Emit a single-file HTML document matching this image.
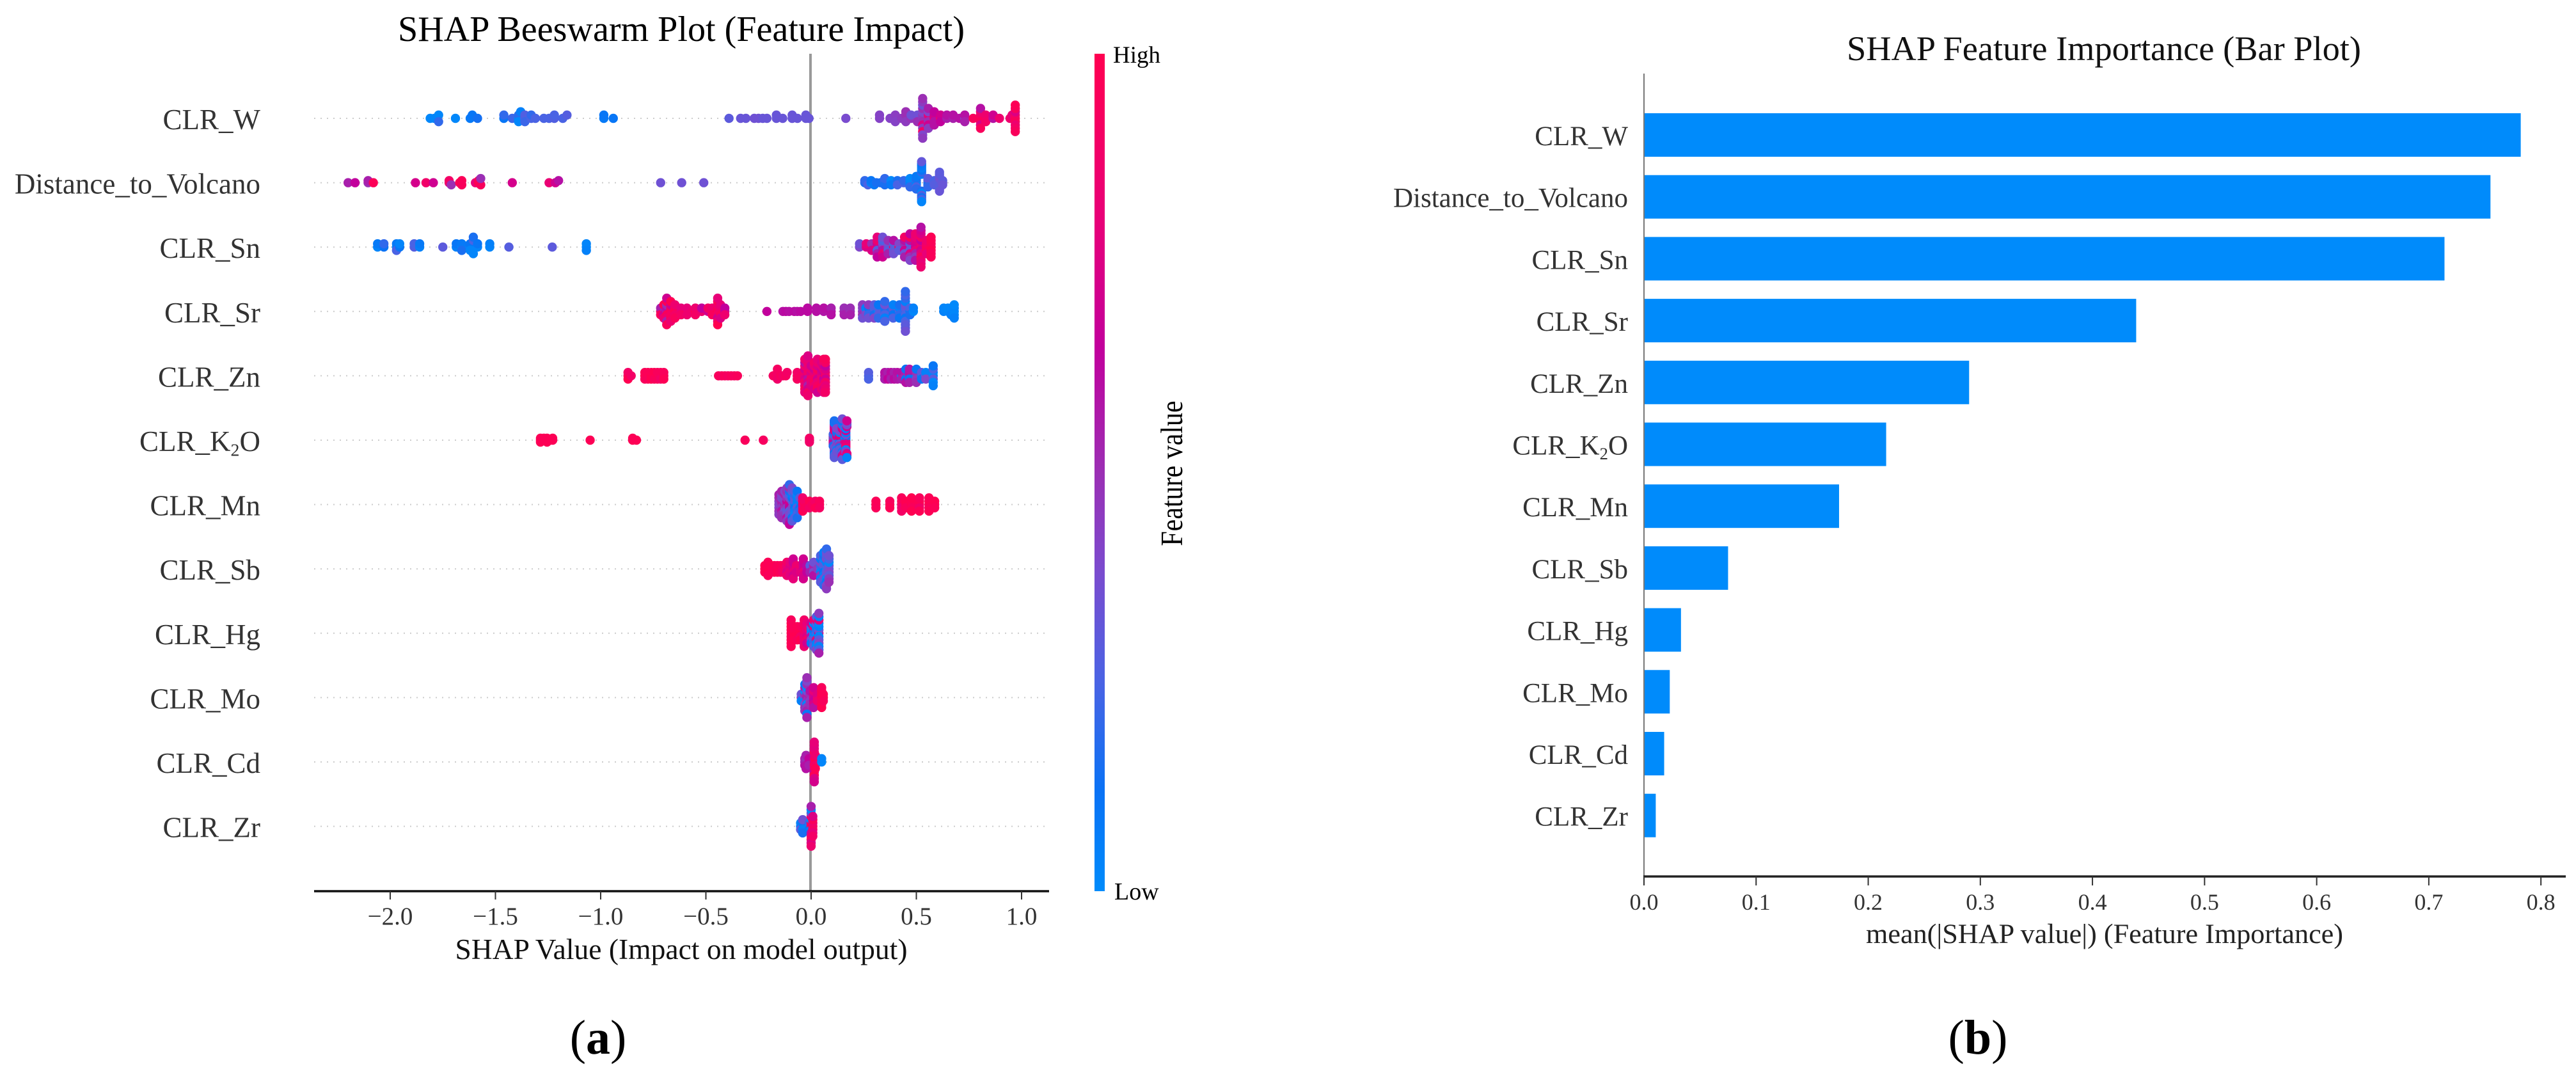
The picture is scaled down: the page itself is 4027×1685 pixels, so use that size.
<!DOCTYPE html>
<html lang="en">
<head>
<meta charset="utf-8">
<title>SHAP Beeswarm and Feature Importance</title>
<style>
html,body{margin:0;padding:0;background:#fff}
svg{display:block;font-family:"Liberation Serif","Noto Serif CJK SC",serif}
</style>
</head>
<body>
<svg id="figure" xmlns="http://www.w3.org/2000/svg" width="4027" height="1685" viewBox="0 0 4027 1685">
  <defs>
    <linearGradient id="shapGradient" x1="0" y1="1" x2="0" y2="0">
      <stop offset="0" stop-color="#008bfb"/>
      <stop offset="0.12" stop-color="#0a72f5"/>
      <stop offset="0.25" stop-color="#4a63e4"/>
      <stop offset="0.38" stop-color="#7a4ccf"/>
      <stop offset="0.5" stop-color="#9b2fb4"/>
      <stop offset="0.65" stop-color="#c2009c"/>
      <stop offset="0.8" stop-color="#e80078"/>
      <stop offset="1" stop-color="#ff0051"/>
    </linearGradient>
  </defs>
  <rect x="0" y="0" width="4027" height="1685" fill="#fff"/>

  <g id="beeswarm">
    <text x="1065" y="64" font-size="56" text-anchor="middle" textLength="886" lengthAdjust="spacingAndGlyphs" fill="#000">SHAP Beeswarm Plot (Feature Impact)</text>
    <g id="beeGrid"></g>
    <line x1="1267" y1="84" x2="1267" y2="1393" stroke="#999" stroke-width="4"/>
    <g id="beeDots"></g>
    <g id="beeLabels"></g>
    <line x1="491" y1="1393" x2="1640" y2="1393" stroke="#111" stroke-width="3.5"/>
    <g id="beeTicks"></g>
    <text x="1065" y="1499" font-size="45" text-anchor="middle" textLength="707" lengthAdjust="spacingAndGlyphs" fill="#111">SHAP Value (Impact on model output)</text>
    <rect x="1711" y="84" width="16" height="1309" fill="url(#shapGradient)"/>
    <text x="1740" y="98" font-size="37" fill="#000">High</text>
    <text x="1742" y="1406" font-size="38" fill="#000">Low</text>
    <text transform="translate(1848,740) rotate(-90) scale(1,1.15)" font-size="42" text-anchor="middle" fill="#000">Feature value</text>
    <text x="935" y="1647" font-size="76" text-anchor="middle" fill="#000">(<tspan font-weight="bold">a</tspan>)</text>
  </g>

  <g id="barplot">
    <text x="3289" y="94" font-size="54" text-anchor="middle" textLength="804" lengthAdjust="spacingAndGlyphs" fill="#111">SHAP Feature Importance (Bar Plot)</text>
    <g id="barRects"></g>
    <line x1="2570" y1="115" x2="2570" y2="1370" stroke="#777" stroke-width="2"/>
    <g id="barLabels"></g>
    <line x1="2569" y1="1370" x2="4011" y2="1370" stroke="#222" stroke-width="3.5"/>
    <g id="barTicks"></g>
    <text x="3290" y="1474" font-size="43" text-anchor="middle" textLength="746" lengthAdjust="spacingAndGlyphs" fill="#222">mean(|SHAP value|) (Feature Importance)</text>
    <text x="3092" y="1647" font-size="76" text-anchor="middle" fill="#000">(<tspan font-weight="bold">b</tspan>)</text>
  </g>
</svg>

<script>
const featureLabels = ['CLR_W','Distance_to_Volcano','CLR_Sn','CLR_Sr','CLR_Zn','CLR_K2O','CLR_Mn','CLR_Sb','CLR_Hg','CLR_Mo','CLR_Cd','CLR_Zr'];
const barValues = [0.782,0.755,0.714,0.439,0.29,0.216,0.174,0.075,0.033,0.023,0.018,0.0105];
const beeTickValues = [-2,-1.5,-1,-0.5,0,0.5,1];
const beeTickLabels = ['\u22122.0','\u22121.5','\u22121.0','\u22120.5','0.0','0.5','1.0'];
const barTickValues = [0,0.1,0.2,0.3,0.4,0.5,0.6,0.7,0.8];
const barTickLabels = ['0.0','0.1','0.2','0.3','0.4','0.5','0.6','0.7','0.8'];

const shapW = [-1.81,-1.79,-1.77,-1.77,-1.69,-1.62,-1.61,-1.585,
-1.46,-1.46,-1.42,-1.39,-1.39,-1.39,-1.38,-1.36,-1.36,-1.36,-1.33,-1.33,-1.31,-1.27,-1.245,-1.22,-1.22,-1.18,-1.16,
-.985,-.985,-.94,
-.39,-.335,-.31,-.27,-.25,-.23,-.21,-.165,-.165,-.135,-.09,-.09,-.065,-.025,-.025,-.01,.165,
.325,.325,.375,.40,.40,.43,.45,.45,.45,.475,.475,
.505,.505,.505,
.53,.53,.53,.53,.53,.53,.53,.53,.53,.53,.53,.53,.53,
.557,.557,.557,.557,.557,.557,.557,
.585,.585,.585,.585,.585,
.615,.615,.615,
.645,.645,.675,.675,.705,.73,.73,.73,.77,
.805,.805,.805,.805,.805,.805,.805,.83,.83,.83,
.865,.865,.895,.945,.955,
.97,.97,.97,.97,.97,.97,.97,.97,.97];
const featW = [.02,.03,.02,.2,.02,.08,.1,.14,
.1,.2,.22,.02,.18,.02,.05,.25,.27,.22,.25,.2,.25,.25,.25,.27,.25,.25,.28,
.08,.1,.1,
.3,.33,.33,.35,.35,.33,.33,.33,.33,.33,.33,.33,.33,.33,.33,.33,.38,
.42,.42,.42,.44,.42,.45,.5,.45,.5,.48,.35,
.4,.35,.5,
.45,.45,.5,.4,.75,.5,.45,.35,.9,.45,.4,.5,.45,
.5,.8,.5,.4,.7,.55,.45,
.85,.7,.6,.65,.6,
.9,.7,.65,
.55,.6,.55,.6,.6,.45,.6,.55,.95,
.98,.9,.95,.85,.75,.6,.95,.95,.85,.9,
.6,.7,.85,.85,.8,
.98,.9,.95,.75,.85,.95,.9,.98,.95];

const shapDistance = [-2.20,-2.167,-2.105,-2.105,-2.08,-1.88,-1.83,-1.795,-1.72,-1.72,-1.71,-1.67,-1.66,-1.66,-1.595,-1.58,-1.58,-1.57,-1.57,-1.42,-1.245,-1.215,-1.20,-.715,-.615,-.51,
.255,.255,.27,.285,.285,.30,.31,.33,.35,.35,.35,.38,.38,.38,.41,.41,.41,.44,.44,.47,.47,.47,.47,.47,
.50,.50,.50,.50,.50,.50,.50,
.525,.525,.525,.525,.525,.525,.525,.525,.525,.525,.525,.525,.525,
.555,.555,.555,.555,.555,
.585,.585,.585,
.61,.61,.61,.61,.61,.61,.61,
.625,.625,.625];
const featDistance = [.55,.65,.5,.55,.97,.72,.88,.7,.85,.9,.5,.97,.97,.95,.8,1,.97,.95,.5,.72,.82,.7,.6,.35,.35,.35,
.15,.2,.25,.05,.1,.08,.15,.15,.2,.15,.2,.05,.02,.08,.03,.15,.25,.25,.2,.02,.03,.05,.02,.2,
.1,.2,.05,.15,.25,.08,.18,
.05,.15,.2,.02,.1,.28,.05,.15,.08,.25,.1,.03,.32,
.2,.25,.15,.3,.2,
.3,.25,.28,
.33,.3,.35,.28,.3,.33,.3,
.33,.3,.33];

const shapSn = [-2.06,-2.06,-2.03,-2.03,-1.97,-1.97,-1.97,-1.955,-1.955,-1.886,-1.886,-1.86,-1.86,-1.75,-1.686,-1.686,-1.66,-1.66,-1.66,-1.62,-1.62,-1.62,-1.605,-1.605,-1.605,-1.585,-1.585,-1.527,-1.527,-1.436,-1.23,-1.068,-1.068,-1.068,
.23,.23,.262,.262,.288,.288,.288,
.314,.314,.314,.314,.314,.314,.314,
.34,.34,.34,.34,.34,.34,.34,
.366,.366,.366,.366,.366,
.392,.392,.392,.392,.392,
.418,.418,.418,
.444,.444,.444,.444,.444,.444,.444,
.47,.47,.47,.47,.47,.47,.47,.47,.47,
.496,.496,.496,.496,.496,.496,.496,.496,.496,
.522,.522,.522,.522,.522,.522,.522,.522,.522,.522,.522,.522,.522,
.548,.548,.548,.548,.548,
.57,.57,.57,.57,.57,.57,.57];
const featSn = [.03,.08,.12,.2,.03,.08,.25,.1,.03,.28,.25,.05,.08,.3,.05,.1,.03,.08,.15,.06,.1,.03,.25,.03,.15,.03,.1,.03,.05,.28,.3,.02,.03,.05,
.4,.35,.75,.8,.9,.5,.75,
.95,.7,.3,.85,.55,.8,.65,
.55,.4,.6,.25,.8,.35,.7,
.45,.35,.3,.5,.55,
.9,.28,.3,.6,.35,
.95,.4,.3,
.3,.5,.7,.6,.35,.9,.55,
.7,.3,.35,.6,.75,.95,.5,.65,.4,
.65,.7,.8,.75,.55,.8,.45,.85,.6,
.95,.8,.7,.65,.8,.9,.95,.75,.85,.7,.8,.6,.85,
.97,.9,.95,.85,.8,
.98,.95,1,.97,.95,.98,.96];

const shapSr = [-.715,-.715,-.715,-.70,-.70,-.70,-.70,-.70,
-.686,-.686,-.686,-.686,-.686,-.686,-.686,-.686,-.686,
-.667,-.667,-.667,-.667,-.667,-.667,-.667,
-.647,-.647,-.647,-.647,-.647,
-.618,-.618,-.618,-.59,-.59,-.59,-.565,-.55,-.55,-.55,-.52,-.52,-.49,-.49,-.47,-.47,-.47,
-.444,-.444,-.444,-.444,-.444,-.444,-.444,-.444,-.444,
-.43,-.43,-.43,-.43,-.43,-.41,-.41,-.41,
-.21,-.134,-.12,-.105,-.08,-.066,-.05,-.017,-.017,.025,.025,.06,.06,.095,.095,.095,
.157,.157,.157,.186,.186,.186,
.244,.244,.244,.244,.244,.26,.26,.26,
.273,.273,.273,.273,.273,
.30,.30,.30,.30,.30,
.32,.32,.32,.32,.32,
.35,.35,.35,.35,.35,.35,.35,
.39,.39,.39,.39,.39,
.42,.42,.42,.42,.42,
.448,.448,.448,.448,.448,.448,.448,.448,.448,.448,.448,.448,.448,
.47,.47,.47,.486,.486,
.63,.63,.65,.65,.665,.665,.665,.68,.68,.68,.68,.68];
const featSr = [.9,.55,.95,.95,.55,.7,1,.85,
.55,.6,.95,.5,.85,.98,.55,.7,.95,
.98,.95,.9,.7,.95,1,.85,
1,.98,.9,.85,.95,
.85,.8,.9,.95,.8,.85,.85,.98,.85,.9,.85,.65,.7,.9,.9,.85,.95,
1,.95,.9,.85,.7,.95,.85,.8,1,
.9,.85,.95,.8,.75,.7,.65,.85,
.65,.6,.62,.6,.62,.6,.62,.62,.62,.6,.6,.58,.6,.62,.55,.6,
.55,.5,.55,.5,.5,.55,
.45,.42,.5,.45,.35,.4,.05,.4,
.3,.1,.2,.45,.35,
.2,.25,.15,.3,.4,
.02,.25,.3,.1,.2,
.2,.15,.25,.35,.05,.2,.25,
.2,.3,.1,.05,.25,
.25,.05,.2,.15,.1,
.2,.3,.25,.35,.1,.05,.25,.2,.3,.25,.3,.2,.35,
.1,.25,.15,.02,.05,
.05,.03,.03,.02,.03,.02,.05,.02,.03,.02,.01,.05];

const shapZn = [-.87,-.87,-.87,-.855,-.79,-.79,-.79,-.775,-.775,-.775,-.76,-.76,-.76,-.745,-.745,-.745,-.73,-.73,-.73,-.715,-.715,-.715,-.70,-.70,-.70,
-.44,-.425,-.41,-.395,-.38,-.365,-.35,
-.18,-.165,-.16,-.16,-.16,-.145,-.134,-.12,-.114,-.066,-.066,-.066,-.045,
-.03,-.03,-.03,-.03,-.03,-.03,-.03,-.03,-.03,-.03,-.03,
-.015,-.015,-.015,-.015,-.015,-.015,-.015,-.015,-.015,-.015,-.015,-.015,-.015,
0,0,0,0,0,0,0,
.015,.015,.015,.015,.015,.015,.015,.015,.015,
.03,.03,.03,.03,.03,.03,.03,.03,.03,.03,.03,
.05,.05,.05,.05,.05,.05,.05,.05,.05,
.06,.06,.06,.06,.06,.06,.06,.06,.06,.06,.06,
.068,.068,.068,.068,.068,.068,.068,.068,.068,.068,.068,
.273,.273,.273,.35,.35,.35,.365,.365,.365,.38,.38,.38,.395,.395,.395,.41,.41,.41,.43,.43,.43,
.45,.45,.45,.45,.45,.467,.467,.467,.467,.467,.5,.5,.5,.5,.5,.525,.525,.525,.545,.545,.545,
.58,.58,.58,.58,.58,.58,.58];
const featZn = [.95,.9,1,.9,1,.97,.95,1,.97,.95,1,.97,1,.98,1,.95,1,.95,.95,.92,.95,.9,.95,.95,.98,
.95,.93,.95,.92,.95,.93,.95,
.92,.93,.9,.88,.92,.93,.9,.93,.9,.95,.9,.93,.92,
.8,.85,.75,.7,.9,.85,.8,.6,.95,.85,.8,
.7,.85,.6,.9,.75,.8,.55,.85,.7,.8,.9,.75,.85,
.8,.75,.9,.85,.8,.7,.75,
.85,.8,.9,.7,.95,.8,.85,.9,.75,
.9,.85,.7,.95,.8,.75,.9,.85,.95,.8,.7,
.8,.75,.85,.7,.9,.8,.95,.75,.85,
.85,.7,.65,.8,.75,.7,.9,.85,.75,.95,.8,
.95,.85,.7,.75,.9,.65,.8,.9,.85,.95,.9,
.25,.28,.25,.55,.6,.55,.6,.55,.65,.6,.62,.55,.6,.55,.62,.55,.6,.58,.05,.6,.55,
.5,.55,.1,.12,.6,.55,.6,.1,.58,.55,.05,.5,.45,.1,.5,.05,.3,.1,.35,.05,.4,
.02,.05,.3,.25,.02,.1,.05];

const shapK2O = [-1.286,-1.286,-1.286,-1.27,-1.27,-1.255,-1.255,-1.255,-1.24,-1.228,-1.228,-1.05,-.848,-.848,-.83,-.314,-.227,-.008,-.008,-.008,
.105,.105,.105,.105,.105,.105,.105,
.11,.11,.11,.11,.11,.11,.11,.11,.11,.11,.11,.11,.11,
.122,.122,.122,.122,.122,.122,.122,.122,.122,.122,.122,.122,.122,
.135,.135,.135,.135,.135,.135,.135,.135,.135,.135,.135,
.148,.148,.148,.148,.148,.148,.148,.148,.148,.148,.148,
.16,.16,.16,.16,.16,.16,.16,.16,.16,.16,.16,.16,.16,
.165,.165,.165,.165,.165,.165,.165,.165,.165,.165,.165,.165,.165,
.17,.17,.17,.17,.17,.17,.17];
const featK2O = [.98,.97,.98,.98,.97,.98,.97,.98,.98,.97,.98,.98,.98,.97,.98,.95,.93,.9,.9,.88,
.8,.3,.75,.5,.6,.25,.15,
.2,.35,.75,.3,.85,.4,.7,.1,.55,.25,.05,.3,.15,
.4,.3,.25,.8,.35,.6,.45,.15,.3,.1,.05,.4,.35,
.25,.8,.1,.7,.3,.85,.5,.05,.15,.4,.3,
.7,.15,.75,.3,.05,.6,.2,.8,.1,.3,.35,
.02,.1,.75,.05,.7,.8,.4,.85,.05,.8,.02,.35,.8,
.05,.02,.8,.1,.75,.4,.8,.05,.85,.7,.02,.05,.4,
.7,.75,.4,.8,.35,.05,.7];

const shapMn = [-.153,-.153,-.153,-.153,-.153,-.153,-.153,
-.14,-.14,-.14,-.14,-.14,-.14,-.14,-.14,-.14,
-.125,-.125,-.125,-.125,-.125,-.125,-.125,-.125,-.125,
-.115,-.115,-.115,-.115,-.115,-.115,-.115,-.115,-.115,-.115,-.115,
-.103,-.103,-.103,-.103,-.103,-.103,-.103,-.103,-.103,-.103,-.103,-.103,-.103,
-.09,-.09,-.09,-.09,-.09,-.09,-.09,-.09,-.09,-.09,-.09,
-.078,-.078,-.078,-.078,-.078,-.078,-.078,-.078,-.078,
-.066,-.066,-.066,-.066,-.066,-.066,-.066,-.066,-.066,
-.053,-.053,-.053,-.053,-.053,
-.04,-.04,-.04,-.04,-.04,-.03,-.03,-.03,
-.008,-.008,-.008,.005,.02,.02,.02,.04,.04,.04,
.308,.308,.308,.374,.374,.374,.43,.43,.43,.43,.43,.45,.45,.45,
.477,.477,.477,.477,.477,.515,.515,.515,.515,.515,.56,.56,.56,.56,.56,.587,.587,.587];
const featMn = [.45,.42,.4,.5,.5,.55,.45,
.5,.55,.45,.4,.6,.4,.5,.55,.5,
.6,.45,.5,.4,.35,.55,.45,.4,.5,
.55,.65,.45,.5,.3,.4,.35,.5,.6,.45,.45,
.6,.7,.65,.4,.3,.25,.4,.15,.35,.5,.55,.2,.65,
.7,.3,.4,.1,.35,.05,.3,.3,.1,.4,.3,
.05,.25,.1,.3,.05,.2,.02,.3,.25,
.02,.05,.3,.05,.2,.03,.25,.1,.15,
.25,.05,.1,.3,.2,
.9,.95,.8,.85,.98,.98,.9,.95,
.95,.98,.9,.93,.95,.9,.98,.98,.95,.92,
.98,.97,.96,.97,.95,.98,.9,.95,.85,.95,.9,.98,1,.95,
1,.98,.95,1,1,.92,.98,.88,.95,.98,.98,1,.95,.97,.98,.98,1,.97];

const shapSb = [-.22,-.22,-.22,-.205,-.205,-.205,-.205,-.205,-.19,-.19,-.19,-.175,-.175,-.175,-.16,-.16,-.16,-.145,-.145,-.145,-.134,-.134,-.134,
-.115,-.115,-.115,-.115,-.115,-.10,-.10,-.10,-.10,-.10,
-.085,-.085,-.085,-.085,-.085,-.085,-.085,-.07,-.07,-.07,-.05,-.05,-.05,
-.037,-.037,-.037,-.037,-.037,-.037,-.037,-.02,-.02,-.02,-.005,-.005,-.005,
.012,.012,.012,.012,.012,.03,
.045,.045,.045,.045,.045,.045,.045,.045,.045,
.06,.06,.06,.06,.06,.06,.06,.06,.06,.06,.06,
.073,.073,.073,.073,.073,.073,.073,.073,.073,.073,.073,.073,.073,
.085,.085,.085,.085,.085,.085,.085,.085,.085];
const featSb = [1,1,.98,1,.98,1,.97,.95,1,.98,.97,.97,.98,.95,.97,.95,.98,.95,.97,.95,.9,.95,.9,
.85,.8,.75,.9,.85,.8,.75,.82,.8,.78,
.7,.75,.8,.68,.72,.7,.8,.8,.85,.75,.8,.85,.78,
.72,.7,.8,.68,.75,.7,.72,.6,.62,.65,.6,.3,.55,
.5,.55,.4,.35,.6,.45,
.3,.2,.05,.4,.45,.1,.05,.25,.3,
.15,.25,.1,.3,.05,.02,.35,.15,.3,.05,.2,
.02,.25,.3,.05,.35,.4,.03,.3,.1,.35,.4,.2,.45,
.3,.35,.4,.02,.3,.25,.45,.35,.5];

const shapHg = [-.095,-.095,-.095,-.095,-.095,-.095,-.095,-.095,-.095,
-.08,-.08,-.08,-.08,-.08,-.066,-.066,-.066,-.066,-.066,-.05,-.05,-.05,-.05,-.05,
-.033,-.033,-.033,-.033,-.033,-.033,-.033,-.033,-.033,
-.02,-.02,-.02,-.02,-.02,-.02,-.02,
0,0,0,0,0,0,0,
.012,.012,.012,.012,.012,.012,.012,.012,.012,
.025,.025,.025,.025,.025,.025,.025,.025,.025,.025,.025,
.037,.037,.037,.037,.037,.037,.037,.037,.037,.037,.037,.037,.037];
const featHg = [1,.98,.95,1,.97,1,.98,.95,.97,
1,.97,1,.95,.98,1,.98,1,.97,.95,.98,1,.9,.95,1,
.85,.9,.8,.95,.85,.88,.8,.9,.85,
.85,.8,.75,.85,.9,.8,.7,
.3,.05,.6,.25,.4,.7,.1,
.3,.1,.05,.8,.35,.05,.2,.85,.3,
.35,.2,.02,.05,.85,.3,.05,.85,.02,.3,.4,
.75,.35,.03,.05,.3,.02,.4,.8,.03,.05,.25,.45,.55];

const shapMo = [-.047,-.047,-.047,
-.03,-.03,-.03,-.03,-.03,-.03,-.03,-.03,-.03,
-.02,-.02,-.02,-.02,-.02,-.02,-.02,-.02,-.02,-.02,-.02,-.02,-.02,
-.005,-.005,-.005,-.005,-.005,
.012,.012,.012,.012,.012,.012,.012,
.03,.03,.03,
.05,.05,.05,.05,.05,.05,.05,
.058,.058,.058];
const featMo = [.5,.35,.05,
.4,.5,.05,.02,.35,.55,.5,.1,.45,
.6,.55,.5,.35,.03,.02,.45,.5,.55,.4,.1,.5,.55,
.55,.5,.45,.6,.5,
.75,.7,.65,.8,.72,.7,.6,
.8,.75,.85,
.98,1,.95,1,.97,.95,1,
1,.98,.95];

const shapCd = [-.03,-.03,-.03,-.024,-.024,-.024,-.024,-.024,-.01,-.01,-.01,
.015,.015,.015,.015,.015,.015,.015,.015,.015,.015,.015,.015,.015,
.02,.02,.02,.02,.02,.05,.05];
const featCd = [.5,.55,.6,.55,.5,.6,.55,.6,.6,.65,.55,
.75,.78,.98,.75,.8,.95,.7,.8,1,.78,.75,.8,.72,
.95,1,.9,.85,.98,.02,.03];

const shapZr = [-.05,-.05,-.05,-.04,-.04,-.04,-.04,-.04,-.01,-.01,-.01,
0,0,0,0,0,0,0,0,0,0,0,0,0,
.008,.008,.008,.008,.008,.008,.008];
const featZr = [.1,.05,.3,.3,.1,.05,.35,.15,.05,.2,.1,
.9,.95,.05,.02,.6,.85,.8,.3,.95,.02,.75,.55,.85,
.97,.85,.9,.95,.8,.75,.9];

const shapRows = [shapW,shapDistance,shapSn,shapSr,shapZn,shapK2O,shapMn,shapSb,shapHg,shapMo,shapCd,shapZr];
const featRows = [featW,featDistance,featSn,featSr,featZn,featK2O,featMn,featSb,featHg,featMo,featCd,featZr];

const NS = 'http://www.w3.org/2000/svg';
function xBee(v){ return 1268 + 329 * v; }
function yBee(i){ return 185 + 100.6 * i; }
function xBar(v){ return 2570 + 1752.7 * v; }
function yBar(i){ return 211 + 96.7 * i; }

const colorStops = [[0,0,139,251],[.12,10,114,245],[.25,74,99,228],[.38,122,76,207],[.5,155,47,180],[.65,194,0,156],[.8,232,0,120],[1,255,0,81]];
function shapColor(t){
  t = Math.max(0, Math.min(1, t));
  for (let k = 1; k < colorStops.length; k++) {
    const a = colorStops[k-1], b = colorStops[k];
    if (t <= b[0]) {
      const f = (t - a[0]) / (b[0] - a[0]);
      return 'rgb(' + Math.round(a[1]+(b[1]-a[1])*f) + ',' + Math.round(a[2]+(b[2]-a[2])*f) + ',' + Math.round(a[3]+(b[3]-a[3])*f) + ')';
    }
  }
  return 'rgb(255,0,81)';
}

function make(tag, props){
  const el = document.createElementNS(NS, tag);
  for (const key in props) el.setAttribute(key, props[key]);
  return el;
}

/* Same stacking rule the shap library uses: bin by value, then alternate up and down in each bin. */
function swarmOffsets(values){
  const lo = Math.min.apply(null, values), hi = Math.max.apply(null, values);
  const quant = values.map(function(v){ return Math.round(100 * (v - lo) / (hi - lo + 1e-8)); });
  const order = values.map(function(_, i){ return i; }).sort(function(a, b){ return quant[a] - quant[b] || a - b; });
  const ys = new Array(values.length).fill(0);
  let layer = 0, last = -1;
  order.forEach(function(ind){
    if (quant[ind] !== last) layer = 0;
    ys[ind] = Math.ceil(layer / 2) * ((layer % 2) * 2 - 1);
    layer += 1;
    last = quant[ind];
  });
  const top = Math.max.apply(null, ys) + 1;
  return ys.map(function(y){ return y * 0.36 / top; });
}

function addLabel(parent, label, x, y, size){
  const t = make('text', {x: x, y: y, 'font-size': size, 'text-anchor': 'end', fill: '#333'});
  const cut = label.indexOf('2');
  if (cut < 0) {
    t.textContent = label;
  } else {
    const head = make('tspan', {});
    head.textContent = label.slice(0, cut);
    const sub = make('tspan', {dy: size * 0.17, 'font-size': size * 0.62});
    sub.textContent = '2';
    const tail = make('tspan', {dy: -size * 0.17});
    tail.textContent = label.slice(cut + 1);
    t.appendChild(head);
    t.appendChild(sub);
    t.appendChild(tail);
  }
  parent.appendChild(t);
  return t;
}

const beeGrid = document.getElementById('beeGrid');
const beeDots = document.getElementById('beeDots');
const beeLabels = document.getElementById('beeLabels');
featureLabels.forEach(function(label, i){
  const grid = make('line', {x1: 491, x2: 1640, y1: yBee(i), y2: yBee(i), stroke: '#ccc', 'stroke-width': 2, 'stroke-dasharray': '2 8'});
  
  
  beeGrid.appendChild(grid);

  const text = addLabel(beeLabels, label, 407, yBee(i) + 17, 45);
  
  

  const values = shapRows[i], feats = featRows[i];
  const offsets = swarmOffsets(values);
  values.forEach(function(v, j){
    const dot = make('circle', {cx: xBee(v), cy: yBee(i) - offsets[j] * 100.6, r: 7.2, fill: shapColor(feats[j] === undefined ? 0.5 : feats[j])});
    
    
    beeDots.appendChild(dot);
  });
});

const beeTicks = document.getElementById('beeTicks');
beeTickValues.forEach(function(v, i){
  const tick = make('line', {x1: xBee(v), x2: xBee(v), y1: 1393, y2: 1406, stroke: '#333', 'stroke-width': 2});
  
  
  beeTicks.appendChild(tick);
  const lab = make('text', {x: xBee(v), y: 1445, 'font-size': 39, 'text-anchor': 'middle', fill: '#333'});
  lab.textContent = beeTickLabels[i];
  
  
  beeTicks.appendChild(lab);
});

const barRects = document.getElementById('barRects');
const barLabels = document.getElementById('barLabels');
featureLabels.forEach(function(label, i){
  const bar = make('rect', {x: xBar(0), y: yBar(i) - 34, width: xBar(barValues[i]) - xBar(0), height: 68, fill: '#008bfb'});
  
  
  barRects.appendChild(bar);
  const text = addLabel(barLabels, label, 2545, yBar(i) + 16, 43);
  
  
});

const barTicks = document.getElementById('barTicks');
barTickValues.forEach(function(v, i){
  const tick = make('line', {x1: xBar(v), x2: xBar(v), y1: 1370, y2: 1384, stroke: '#333', 'stroke-width': 2});
  
  
  barTicks.appendChild(tick);
  const lab = make('text', {x: xBar(v), y: 1422, 'font-size': 36, 'text-anchor': 'middle', fill: '#333'});
  lab.textContent = barTickLabels[i];
  
  
  barTicks.appendChild(lab);
});
</script>
</body>
</html>
